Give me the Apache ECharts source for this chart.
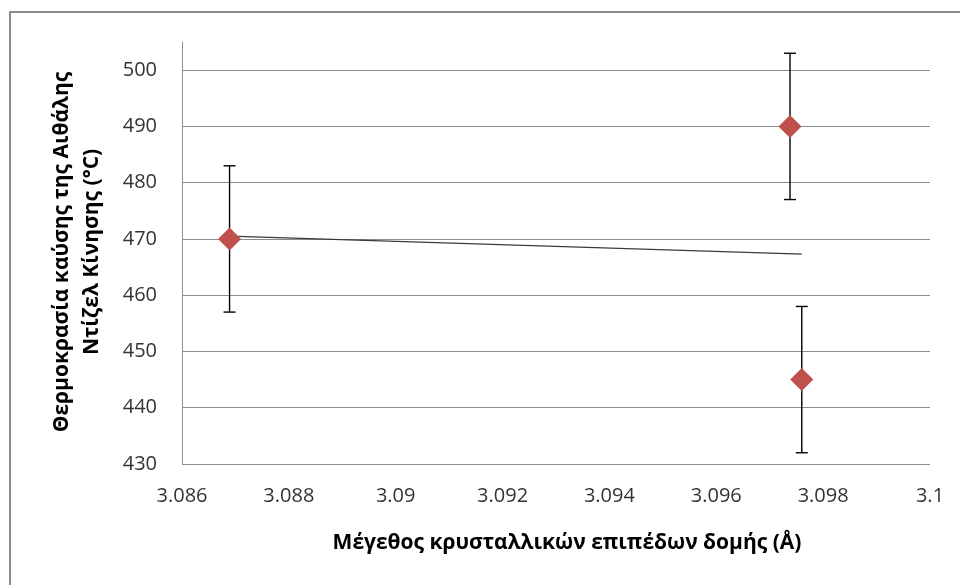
<!DOCTYPE html>
<html>
<head>
<meta charset="utf-8">
<script src="https://cdn.jsdelivr.net/npm/echarts@6/dist/echarts.min.js"></script>
<style>
html,body{margin:0;padding:0;background:#fff;}
#chart{width:960px;height:585px;}
</style>
</head>
<body>
<div id="chart"></div>
<script>
// Data
var xValues = [3.08689, 3.09738, 3.0976];
var yValues = [470, 490, 445];
var errValues = [13, 13, 13];
var trendX = [3.08689, 3.0976];
var trendY = [470.5, 467.3];
var xTitle = 'Μέγεθος κρυσταλλικών επιπέδων δομής (Å)';
var yTitle = 'Θερμοκρασία καύσης της Αιθάλης\nΝτίζελ Κίνησης (°C)';

var points = xValues.map(function (x, i) { return [x, yValues[i]]; });
var errData = xValues.map(function (x, i) { return [x, yValues[i] - errValues[i], yValues[i] + errValues[i]]; });
var trendData = trendX.map(function (x, i) { return [x, trendY[i]]; });

var FONT = '"Open Sans", "Noto Sans", sans-serif';
var chart = echarts.init(document.getElementById('chart'));
chart.setOption({
  animation: false,
  backgroundColor: '#fff',
  graphic: [{
    type: 'rect',
    shape: { x: 10, y: 12, width: 1000, height: 1000 },
    style: { fill: 'none', stroke: '#8c8c8c', lineWidth: 2 },
    silent: true, z: -1
  }, {
    type: 'text',
    x: 567, y: 543,
    style: { text: xTitle, font: 'bold 21px ' + FONT, fill: '#000', align: 'center', verticalAlign: 'middle' }
  }, {
    type: 'text',
    x: 77, y: 252, rotation: Math.PI / 2,
    style: { text: yTitle, font: 'bold 21px ' + FONT, fill: '#000', align: 'center', verticalAlign: 'middle', lineHeight: 30 }
  }],
  grid: { left: 182, right: 30, top: 42, bottom: 121 },
  xAxis: {
    type: 'value', min: 3.086, max: 3.1, interval: 0.002,
    axisLine: { show: false },
    axisTick: { show: false },
    splitLine: { show: false },
    axisLabel: {
      fontFamily: FONT, fontSize: 20, color: '#333', margin: 22,
      formatter: function (v) { return String(parseFloat(v.toFixed(3))); }
    }
  },
  yAxis: {
    type: 'value', min: 430, max: 505, interval: 10,
    axisLine: { show: true, lineStyle: { color: '#8c8c8c', width: 1 } },
    axisTick: { show: false },
    splitLine: { show: true, showMaxLine: false, lineStyle: { color: '#8c8c8c', width: 1 } },
    axisLabel: {
      fontFamily: FONT, fontSize: 20, color: '#333', margin: 25, showMaxLabel: false,
      formatter: function (v) { return v % 10 === 0 ? String(v) : ''; }
    }
  },
  series: [{
    type: 'line',
    data: trendData,
    symbol: 'none',
    lineStyle: { color: '#3a3a3a', width: 1.2 },
    z: 2
  }, {
    type: 'custom',
    data: errData,
    z: 3,
    renderItem: function (params, api) {
      var x = api.value(0);
      var lo = api.coord([x, api.value(1)]);
      var hi = api.coord([x, api.value(2)]);
      var cap = 6;
      var st = { stroke: '#000', lineWidth: 1.4 };
      return {
        type: 'group',
        children: [
          { type: 'line', shape: { x1: hi[0], y1: hi[1], x2: lo[0], y2: lo[1] }, style: st },
          { type: 'line', shape: { x1: hi[0] - cap, y1: hi[1], x2: hi[0] + cap, y2: hi[1] }, style: st },
          { type: 'line', shape: { x1: lo[0] - cap, y1: lo[1], x2: lo[0] + cap, y2: lo[1] }, style: st }
        ]
      };
    }
  }, {
    type: 'scatter',
    data: points,
    symbol: 'diamond',
    symbolSize: [23, 23],
    itemStyle: { color: '#C0504D', opacity: 1 },
    z: 4
  }]
});
</script>
</body>
</html>
